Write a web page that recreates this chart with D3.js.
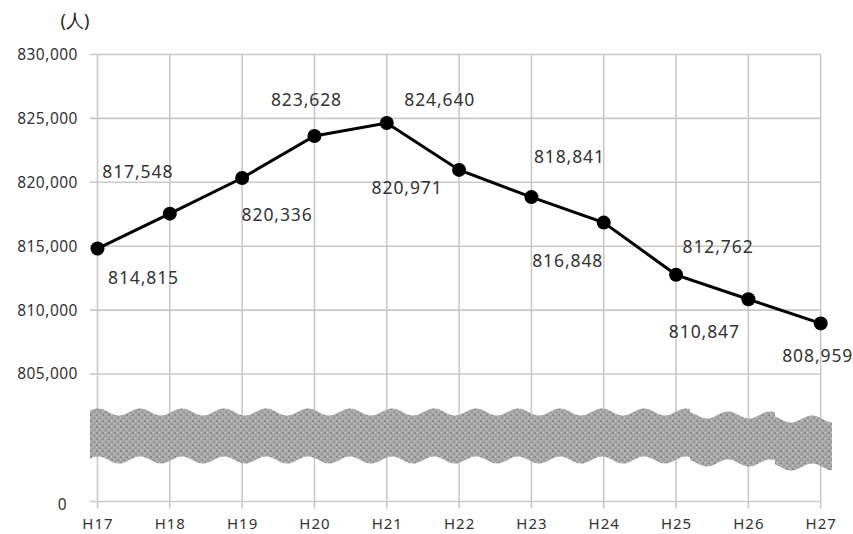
<!DOCTYPE html>
<html><head><meta charset="utf-8">
<script src="https://cdn.jsdelivr.net/npm/d3@7"></script>
<style>
html,body{margin:0;padding:0;background:#fff;}
svg{display:block;}
text{font-family:"Noto Sans","Open Sans",sans-serif;}
</style></head>
<body>
<svg id="chart" width="853" height="534"></svg>
<script>
// ---- data ----
const categories = ["H17","H18","H19","H20","H21","H22","H23","H24","H25","H26","H27"];
const population = [814815, 817548, 820336, 823628, 824640, 820971, 818841, 816848, 812762, 810847, 808959];
const yTickValues = [0, 805000, 810000, 815000, 820000, 825000, 830000];
const unitLabel = "(人)";
// label placement relative to each point (layout, px)
const labelDx = [46, -32, 35, -8, 53, -52, 38, -36, 42, -44, -3];
const labelDy = [29, -42, 37, -36, -23, 18, -40, 38, -28, 32, 32];

const svg = d3.select("#chart");
const x = d3.scalePoint().domain(categories).range([97.5, 820.7]);
// broken axis: 0 at the bottom, 805,000–830,000 in the upper part
const y = d3.scaleLinear().domain([0, 805000, 830000]).range([501.5, 374, 54.5]);

const fmt = d3.format(",");
const gridColor = "#c9c9c9";

// horizontal gridlines
svg.append("g").selectAll("line").data(yTickValues).join("line")
  .attr("x1", 90).attr("x2", 820.7)
  .attr("y1", d => y(d)).attr("y2", d => y(d))
  .attr("stroke", gridColor).attr("stroke-width", 1.6);

// vertical gridlines
svg.append("g").selectAll("line").data(categories).join("line")
  .attr("x1", d => x(d)).attr("x2", d => x(d))
  .attr("y1", y(830000)).attr("y2", y(0) + 7)
  .attr("stroke", gridColor).attr("stroke-width", 1.6);

// broken-axis band
const defs = svg.append("defs");
const pat = defs.append("pattern").attr("id","tex").attr("patternUnits","userSpaceOnUse")
  .attr("width", 6).attr("height", 6);
pat.append("rect").attr("width",6).attr("height",6).attr("fill","#a8a8a8");
pat.append("rect").attr("x",0).attr("y",0).attr("width",2).attr("height",2).attr("fill","#8c8c8c");
pat.append("rect").attr("x",3).attr("y",3).attr("width",2).attr("height",2).attr("fill","#969696");
pat.append("rect").attr("x",3).attr("y",0).attr("width",1).attr("height",1).attr("fill","#d2d2d2");
pat.append("rect").attr("x",0).attr("y",3).attr("width",1).attr("height",1).attr("fill","#c6c6c6");

const bandSegments = [[90, 690, 0], [690, 775, 3], [775, 832, 7]];
bandSegments.forEach(([x0, x1, off]) => {
  const top = [], bot = [];
  for (let xx = x0; xx <= x1; xx += 1) {
    const w = 3.5 * Math.cos(2 * Math.PI * (xx - 140) / 42);
    top.push([xx, 412 + off - w]);
    bot.push([xx, 460 + off - w]);
  }
  const pts = top.concat(bot.reverse());
  svg.append("path").attr("d", d3.line()(pts) + "Z").attr("fill", "url(#tex)");
});

// y axis labels
const yAxis = d3.axisLeft(y).tickValues(yTickValues).tickFormat(fmt).tickSize(0).tickPadding(0);
const gy = svg.append("g").attr("transform","translate(78,0)").call(yAxis);
gy.select(".domain").remove();
gy.selectAll("text").attr("font-size", 15.5).attr("fill", "#333").attr("letter-spacing", 0.5)
  .attr("font-family", '"Noto Sans",sans-serif');
gy.selectAll(".tick").filter(d => d === 0)
  .attr("transform", `translate(-11,${y(0) + 4})`);

// x axis labels
const xAxis = d3.axisBottom(x).tickSize(0).tickPadding(0);
const gx = svg.append("g").attr("transform", `translate(0,${y(0)})`).call(xAxis);
gx.select(".domain").remove();
gx.selectAll("text").attr("font-size", 15).attr("fill", "#333").attr("dy", 0)
  .attr("y", 27).attr("letter-spacing", 1).attr("font-family", '"Noto Sans",sans-serif');

// line
const pts = categories.map((c, i) => [x(c), y(population[i])]);
svg.append("path").attr("d", d3.line()(pts)).attr("fill","none")
  .attr("stroke","#000").attr("stroke-width",3);
svg.append("g").selectAll("circle").data(pts).join("circle")
  .attr("cx", d => d[0]).attr("cy", d => d[1]).attr("r", 7).attr("fill","#000");

// data labels
svg.append("g").selectAll("text").data(population).join("text")
  .attr("x", (d, i) => x(categories[i]) + labelDx[i])
  .attr("y", (d, i) => y(d) + labelDy[i])
  .attr("dy", "0.36em").attr("text-anchor","middle")
  .attr("font-size", 17.5).attr("letter-spacing", 0.9).attr("fill","#333")
  .text(d => fmt(d));

// unit
svg.append("text").attr("x", 75).attr("y", 27).attr("text-anchor","middle")
  .attr("font-size", 18).attr("fill","#222").text(unitLabel);
</script>
</body></html>
